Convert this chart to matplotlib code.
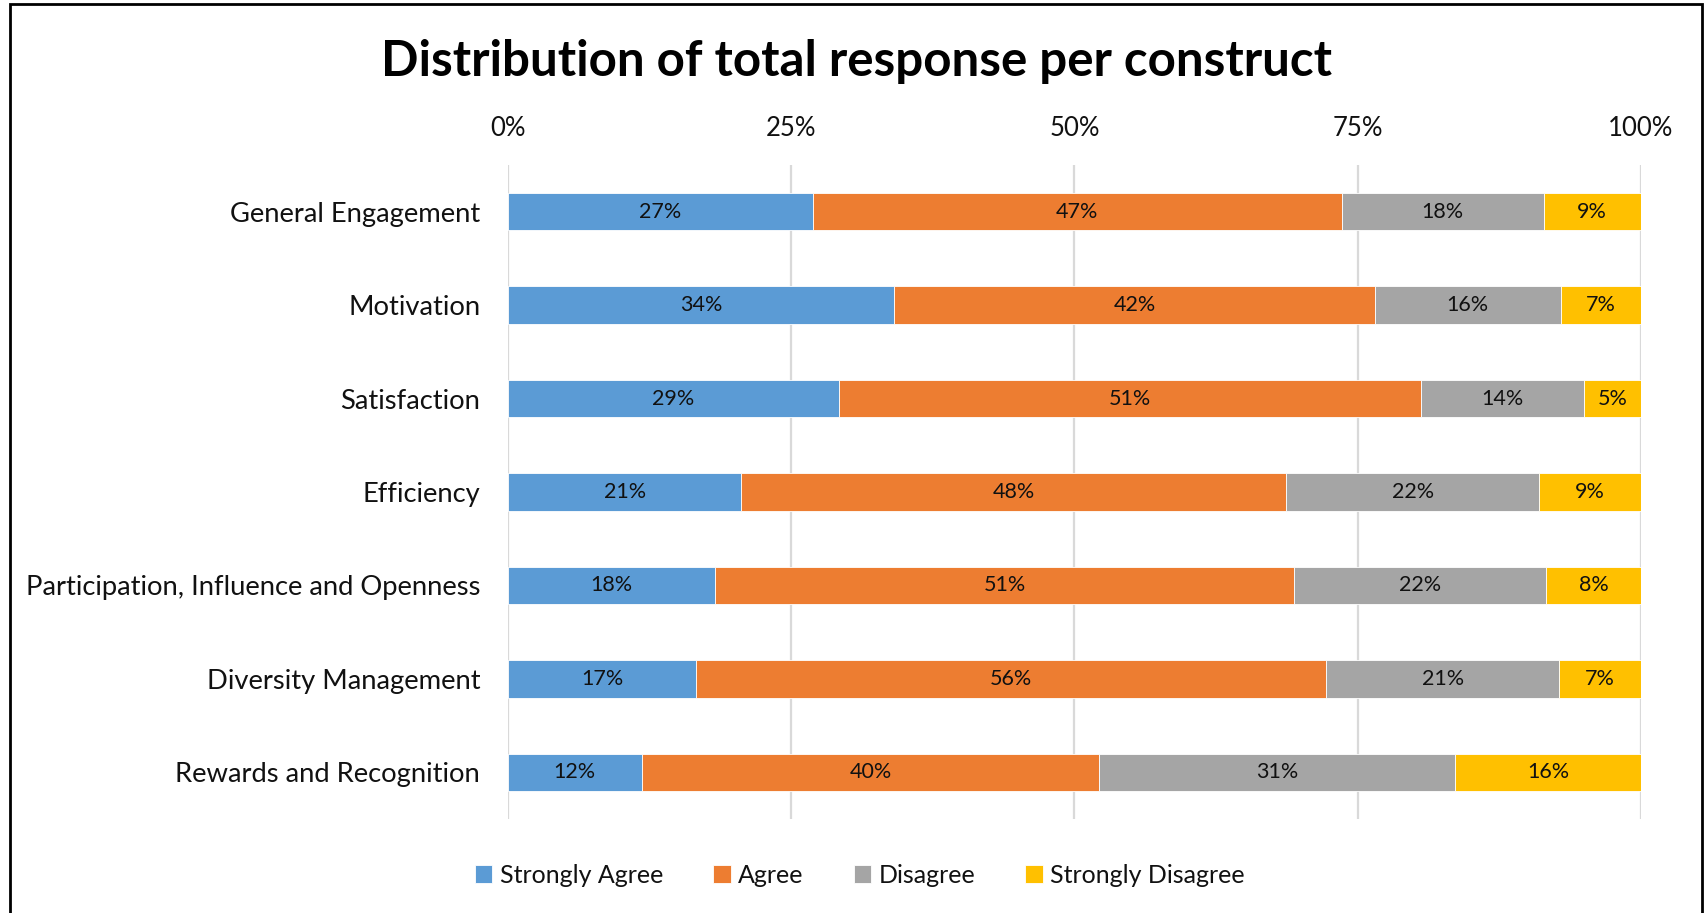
import matplotlib
matplotlib.use("Agg")
import matplotlib.pyplot as plt
from matplotlib.patches import Rectangle
import numpy as np

categories = ["General Engagement", "Motivation", "Satisfaction", "Efficiency",
              "Participation, Influence and Openness", "Diversity Management",
              "Rewards and Recognition"]
strongly_agree = [26.9, 34.1, 29.2, 20.6, 18.3, 16.6, 11.8]
agree = [46.7, 42.4, 51.4, 48.1, 51.1, 55.6, 40.4]
disagree = [17.8, 16.4, 14.4, 22.3, 22.2, 20.6, 31.4]
strongly_disagree = [8.6, 7.1, 5.0, 9.0, 8.4, 7.2, 16.4]
series_names = ["Strongly Agree", "Agree", "Disagree", "Strongly Disagree"]
colors = ["#5B9BD5", "#ED7D31", "#A5A5A5", "#FFC000"]
xticks = [0, 25, 50, 75, 100]
xtick_labels = ["0%", "25%", "50%", "75%", "100%"]
title = "Distribution of total response per construct"

plt.rcParams['font.family'] = ['Lato', 'DejaVu Sans']

fig = plt.figure(figsize=(17.06, 9.13), dpi=100)
ax = fig.add_axes([508/1706, 1-819/913, (1641-508)/1706, (819-165)/913])

y = np.arange(len(categories))
left = np.zeros(len(categories))
series = [strongly_agree, agree, disagree, strongly_disagree]
for name, vals, col in zip(series_names, series, colors):
    vals = np.array(vals)
    ax.barh(y, vals, left=left, height=0.4, color=col, label=name,
            edgecolor="white", linewidth=0.6, zorder=3)
    for yi, l, v in zip(y, left, vals):
        ax.text(l + v/2, yi, f"{v:.0f}%", ha="center", va="center",
                fontsize=15.5, color="#111111", zorder=4)
    left = left + vals

ax.set_xlim(0, 100)
ax.set_ylim(len(categories) - 0.5, -0.5)
ax.set_yticks(y)
ax.set_yticklabels(categories, fontsize=19.7, color="#111111")
ax.set_xticks(xticks)
ax.set_xticklabels(xtick_labels, fontsize=18.5, color="#111111")
ax.xaxis.tick_top()
ax.tick_params(axis="both", length=0)
ax.tick_params(axis="x", pad=17)
ax.tick_params(axis="y", pad=20)
ax.grid(axis="x", color="#D9D9D9", linewidth=1.6, zorder=0)
ax.set_axisbelow(True)
for s in ax.spines.values():
    s.set_visible(False)

fig.text(0.502, 1-61/913, title, ha="center", va="center", fontsize=35.5,
         fontweight="bold", color="black")

fig.legend(loc="center", bbox_to_anchor=(0.504, 1-875/913), ncol=4,
           frameon=False, fontsize=18, handlelength=0.7, handleheight=0.7,
           handletextpad=0.3, columnspacing=2.0, labelcolor="#111111")

fig.patches.append(Rectangle((10/1706, -0.05), (1702-10)/1706, 1.05 - 4/913,
                             transform=fig.transFigure, fill=False,
                             edgecolor="black", linewidth=2, clip_on=False))

fig.savefig("out.png", dpi=100)
